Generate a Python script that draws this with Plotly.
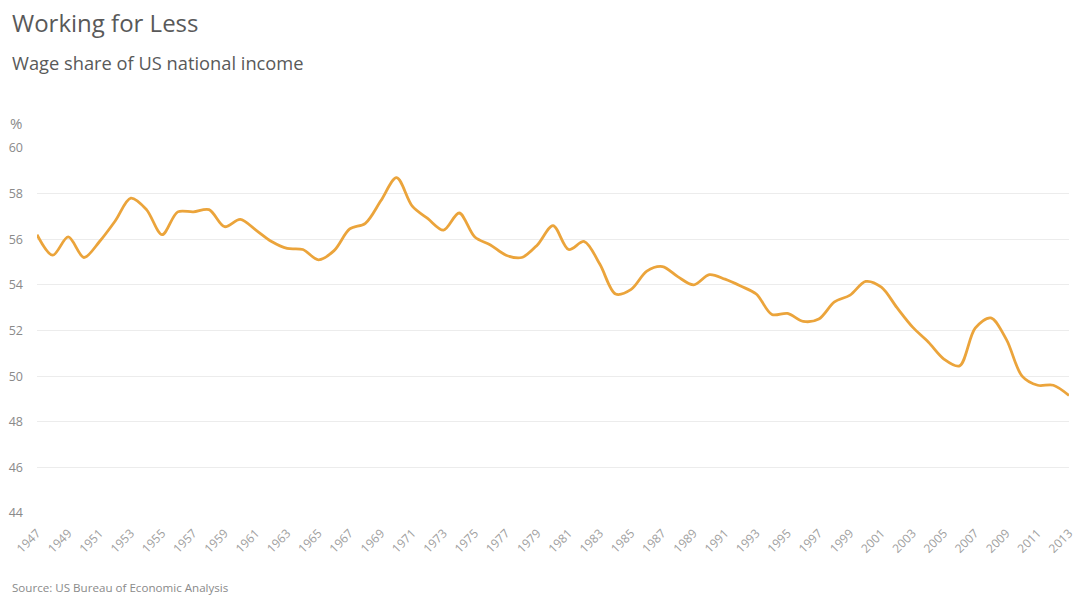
import plotly.graph_objects as go

years = list(range(1947, 2014))
wage_share = [
    56.2, 55.3, 56.1, 55.2, 55.9, 56.8, 57.8, 57.3, 56.2, 57.2,
    57.2, 57.3, 56.55, 56.87, 56.4, 55.9, 55.6, 55.55, 55.1, 55.5,
    56.45, 56.7, 57.7, 58.7, 57.45, 56.9, 56.4, 57.15, 56.1, 55.75,
    55.3, 55.2, 55.75, 56.6, 55.55, 55.9, 54.9, 53.6, 53.8, 54.6,
    54.8, 54.35, 54.0, 54.45, 54.25, 53.95, 53.6, 52.7, 52.75, 52.4,
    52.5, 53.25, 53.55, 54.15, 53.9, 53.0, 52.15, 51.5, 50.75, 50.45,
    52.1, 52.55, 51.6, 50.0, 49.6, 49.6, 49.15,
]
x_ticks = list(range(1947, 2014, 2))
y_ticks = [44, 46, 48, 50, 52, 54, 56, 58, 60]

W, H = 1079, 596
ML, MR, MT, MB = 37, 3, 148, 83
PW, PH = W - ML - MR, H - MT - MB

def px(xp):
    return (xp - ML) / PW

def py(yp):
    return (H - MB - yp) / PH

FONT = "Open Sans"

fig = go.Figure()
fig.add_trace(go.Scatter(
    x=years, y=wage_share, mode="lines",
    line=dict(color="#EBA43B", width=2.8, shape="spline", smoothing=0.9),
    hoverinfo="x+y", showlegend=False, cliponaxis=False,
))

fig.update_layout(
    width=W, height=H,
    margin=dict(l=ML, r=MR, t=MT, b=MB),
    paper_bgcolor="white", plot_bgcolor="white",
    font=dict(family=FONT, color="#8a8a8a"),
    xaxis=dict(
        range=[1947, 2013], tickmode="array", tickvals=x_ticks,
        ticktext=[str(v) for v in x_ticks], tickangle=-45,
        tickfont=dict(size=12, color="#a0a0a0"),
        showgrid=False, zeroline=False, showline=False, ticks="",
        ticklabeloverflow="allow", ticklabelstandoff=10,
    ),
    yaxis=dict(
        range=[44, 60], tickmode="array", tickvals=y_ticks,
        tickfont=dict(size=12.5, color="#8a8a8a"),
        showgrid=True, gridcolor="#ececec", gridwidth=1,
        zeroline=False, showline=False, ticks="",
        ticklabelstandoff=13,
    ),
    annotations=[
        dict(text="Working for Less", x=px(10), y=py(23), xref="paper", yref="paper",
             xanchor="left", yanchor="middle", showarrow=False,
             font=dict(family=FONT, size=24, color="#595959")),
        dict(text="Wage share of US national income", x=px(10), y=py(62), xref="paper", yref="paper",
             xanchor="left", yanchor="middle", showarrow=False,
             font=dict(family=FONT, size=18.3, color="#595959")),
        dict(text="%", x=px(8), y=py(123), xref="paper", yref="paper",
             xanchor="left", yanchor="middle", showarrow=False,
             font=dict(family=FONT, size=15, color="#8a8a8a")),
        dict(text="Source: US Bureau of Economic Analysis", x=px(10), y=py(587), xref="paper", yref="paper",
             xanchor="left", yanchor="middle", showarrow=False,
             font=dict(family=FONT, size=11.6, color="#8a8a8a")),
    ],
)

fig.write_html("out.html", config={"displayModeBar": False},
               post_script="document.body.style.margin='0';document.body.style.padding='0';")
